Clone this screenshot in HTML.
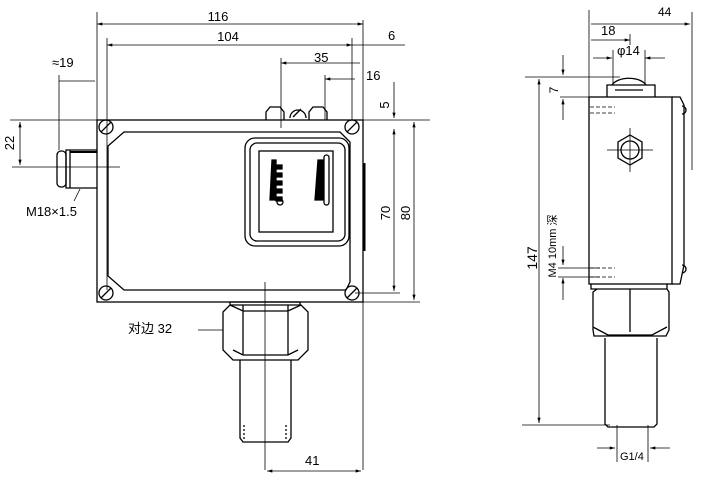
<!DOCTYPE html>
<html><head><style>html,body{margin:0;background:#fff}svg{display:block}text{font-family:"Liberation Sans","Noto Sans CJK SC",sans-serif;fill:#000}</style></head><body>
<svg width="717" height="485" viewBox="0 0 717 485" xmlns="http://www.w3.org/2000/svg" fill="none" stroke="#000" stroke-width="1.3">
<defs><marker id="a" viewBox="0 0 10 6" refX="10" refY="3" markerWidth="8" markerHeight="4" orient="auto-start-reverse"><path d="M0,0L10,3L0,6z" fill="#000" stroke="none"/></marker></defs>
<g stroke-width="0.8">
<line x1="97" y1="12" x2="97" y2="120"/><line x1="107" y1="38" x2="107" y2="290"/>
<line x1="363" y1="20" x2="363" y2="302"/><line x1="352" y1="38" x2="352" y2="120"/>
<line x1="281" y1="58" x2="281" y2="128"/><line x1="325" y1="75" x2="325" y2="120"/>
<line x1="59" y1="75" x2="59" y2="150"/>
<line x1="97" y1="24" x2="363" y2="24" marker-start="url(#a)" marker-end="url(#a)"/>
<line x1="107" y1="45" x2="352" y2="45" marker-start="url(#a)" marker-end="url(#a)"/>
<line x1="352" y1="45" x2="405" y2="45"/>
<line x1="281" y1="63" x2="360" y2="63" marker-start="url(#a)"/>
<line x1="325" y1="79" x2="355" y2="79" marker-start="url(#a)"/>
<line x1="59" y1="81" x2="95" y2="81"/>
<line x1="10" y1="120" x2="430" y2="120"/>
<line x1="20" y1="122" x2="20" y2="165" marker-start="url(#a)" marker-end="url(#a)"/>
<line x1="394" y1="82" x2="394" y2="118" marker-end="url(#a)"/>
<line x1="394" y1="129" x2="394" y2="291" marker-start="url(#a)" marker-end="url(#a)"/>
<line x1="414" y1="122" x2="414" y2="300" marker-start="url(#a)" marker-end="url(#a)"/>
<line x1="355" y1="293" x2="400" y2="293"/><line x1="363" y1="302" x2="420" y2="302"/>
<line x1="265" y1="282" x2="265" y2="470"/><line x1="363" y1="302" x2="363" y2="470"/>
<line x1="267" y1="471" x2="361" y2="471" marker-start="url(#a)" marker-end="url(#a)"/>
<line x1="12" y1="167" x2="120" y2="167"/>
<line x1="198" y1="330" x2="223" y2="330"/><line x1="80" y1="189" x2="74" y2="201"/>
</g>
<g font-size="13" stroke="none">
<text x="218" y="21" text-anchor="middle">116</text>
<text x="228" y="41" text-anchor="middle">104</text>
<text x="388" y="40">6</text>
<text x="314" y="62">35</text>
<text x="366" y="80">16</text>
<text x="52" y="67">≈19</text>
<text x="26" y="216">M18×1.5</text>
<text x="128" y="333">对边 32</text>
<text x="305" y="465">41</text>
<text transform="translate(14,143) rotate(-90)" text-anchor="middle">22</text>
<text transform="translate(389,105) rotate(-90)" text-anchor="middle">5</text>
<text transform="translate(390,213) rotate(-90)" text-anchor="middle">70</text>
<text transform="translate(410,213) rotate(-90)" text-anchor="middle">80</text>
</g>
<rect x="97" y="120" width="266" height="182"/>
<path d="M124,132H340L350,142V282L346,290H124L108,276V146Z"/>
<rect x="245" y="138" width="104" height="108" rx="10"/>
<rect x="250" y="143" width="95" height="98" rx="7"/>
<rect x="259" y="151" width="74" height="81"/>
<path d="M272,160l4,0v40h-6z" fill="#000"/><path d="M276,165h6v4h-6zM276,173h6v4h-6zM276,181h6v4h-6zM276,189h6v4h-6zM276,197h6v4h-6z" fill="#000"/>
<path d="M318,160l5,0v40h-8z" fill="#000"/><rect x="324" y="155" width="5" height="50" rx="2.5"/>
<circle cx="280" cy="202" r="3"/>
<path d="M364,163v88" stroke-width="3"/>
<g><circle cx="106" cy="127" r="7"/><circle cx="352" cy="127" r="7"/><circle cx="106" cy="293" r="7"/><circle cx="352" cy="293" r="7"/>
<path d="M101,132l10,-10M347,132l10,-10M101,298l10,-10M347,298l10,-10"/></g>
<path d="M266,120v-8l4,-5h10l4,5v8M309,120v-8l4,-5h10l4,5v8M290,118a8,8 0 1,1 16,0"/>
<path d="M293,117l8,-8"/>
<path d="M97,150H66V188H97M70,150v38"/>
<rect x="57" y="151" width="9" height="36" rx="4"/>
<line x1="70" y1="152" x2="97" y2="152" stroke-width="2"/>
<path d="M230,302h70v3h-70zM223,312l7,-7h71l7,7v38l-10,10h-65l-10,-10z"/>
<path d="M243,305v50M288,305v50M230,305l13,6h45l13,-6M233,350l10,5h45l10,-5"/>
<path d="M240,360v78l3,4h45l3,-4v-78"/>
<path d="M244,425v14M286,425v14" stroke-dasharray="2,2"/>
<g stroke-width="0.8">
<line x1="589" y1="10" x2="589" y2="97"/><line x1="692" y1="12" x2="692" y2="170"/>
<line x1="591" y1="24" x2="690" y2="24" marker-end="url(#a)"/>
<line x1="591" y1="40" x2="630" y2="40" marker-end="url(#a)"/><line x1="630" y1="34" x2="630" y2="45"/>
<line x1="593" y1="58" x2="612" y2="58" marker-end="url(#a)"/><line x1="665" y1="58" x2="645" y2="58" marker-end="url(#a)"/>
<line x1="613" y1="50" x2="613" y2="84"/><line x1="645" y1="50" x2="645" y2="84"/>
<line x1="525" y1="77" x2="620" y2="77"/><line x1="560" y1="97" x2="590" y2="97"/>
<line x1="563" y1="55" x2="563" y2="75" marker-end="url(#a)"/><line x1="563" y1="120" x2="563" y2="99" marker-end="url(#a)"/>
<line x1="539" y1="79" x2="539" y2="423" marker-start="url(#a)" marker-end="url(#a)"/>
<line x1="522" y1="425" x2="610" y2="425"/>
<line x1="563" y1="246" x2="563" y2="265" marker-end="url(#a)"/><line x1="563" y1="300" x2="563" y2="278" marker-end="url(#a)"/>
<line x1="558" y1="268" x2="600" y2="268"/><line x1="558" y1="277" x2="600" y2="277"/>
<line x1="617" y1="425" x2="617" y2="462"/><line x1="648" y1="425" x2="648" y2="462"/>
<line x1="597" y1="448" x2="615" y2="448" marker-end="url(#a)"/><line x1="670" y1="448" x2="650" y2="448" marker-end="url(#a)"/>
<line x1="607" y1="150" x2="653" y2="150"/><line x1="630" y1="128" x2="630" y2="172"/>
</g>
<g stroke="none">
<text x="658" y="16" font-size="12">44</text>
<text x="601" y="35" font-size="13">18</text>
<text x="617" y="55" font-size="13">φ14</text>
<text x="620" y="460" font-size="11">G1/4</text>
<text transform="translate(558,90) rotate(-90)" font-size="12" text-anchor="middle">7</text>
<text transform="translate(537,258) rotate(-90)" font-size="14" text-anchor="middle">147</text>
<text transform="translate(556,246) rotate(-90)" font-size="11" text-anchor="middle">M4 10mm 深</text>
</g>
<rect x="589" y="97" width="83" height="187"/>
<path d="M672,97h8l4,8v160l-4,19h-8M682,106a4,4 0 0,1 0,8M682,265a4,4 0 0,1 0,8"/>
<path d="M607,97v-12h48v12M612,85a18,10 0 0,1 34,0M615,90h28"/>
<polygon points="630,135 642,142 642,158 630,165 618,158 618,142"/><circle cx="630" cy="150" r="9"/>
<path d="M590,107h25M590,113h25M590,268h25M590,277h25" stroke-dasharray="4,2" stroke-width="0.8"/>
<path d="M591,284v5h76v-5M593,292l4,-3h70l2,3v38l-3,6h-72l-1,-6zM630,289v43M593,327l15,8h44l15,-8"/>
<path d="M605,338v86l3,3h46l3,-3v-86"/>
</svg>
</body></html>
